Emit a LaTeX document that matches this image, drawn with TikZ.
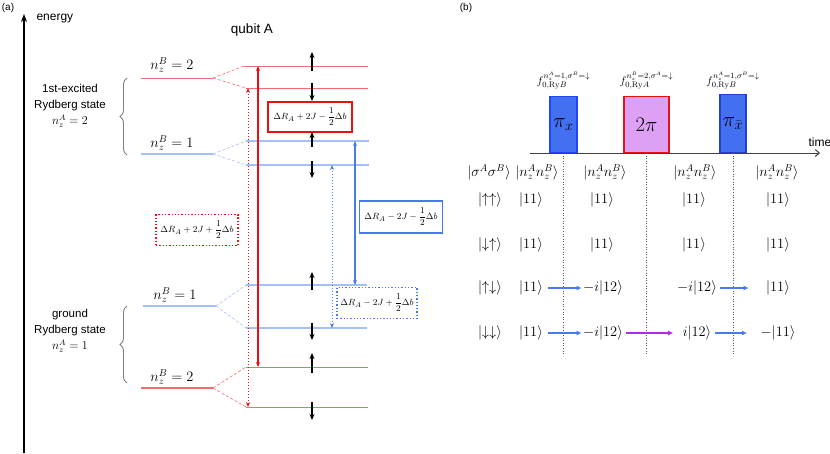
\documentclass[tikz,border=0pt]{standalone}
\usepackage[no-math]{fontspec}
\setmainfont{Liberation Sans}
\usepackage{amsmath}
\usetikzlibrary{positioning,arrows.meta,decorations.pathreplacing}

\definecolor{lvlred}{RGB}{240,110,110}
\definecolor{lvlblue}{RGB}{165,192,245}
\definecolor{trred}{RGB}{235,15,15}
\definecolor{trblue}{RGB}{72,122,238}
\definecolor{pulseblue}{RGB}{66,112,240}
\definecolor{pulseedge}{RGB}{30,70,255}
\definecolor{pulsedark}{RGB}{35,65,200}
\definecolor{pulseviolet}{RGB}{222,160,245}
\definecolor{arrviolet}{RGB}{178,40,240}

\begin{document}
\begin{tikzpicture}[
	x=1pt, y=-1pt,
	>=Stealth,
	font=\fontsize{12}{14}\selectfont,
	lvlR/.style={draw=lvlred, line width=0.9pt},
	lvlB/.style={draw=lvlblue, line width=1.3pt},
	splitR/.style={draw=lvlred, densely dashed, line width=0.6pt},
	splitB/.style={draw=lvlblue, densely dashed, line width=0.6pt},
	spin/.style={line width=1.4pt, -{Stealth[length=6pt,width=5pt]}},
	trans/.style={line width=1.4pt, {Stealth[length=5pt,width=4pt]}-{Stealth[length=5pt,width=4pt]}},
	transdot/.style={line width=1pt, dotted, {Stealth[length=5pt,width=4pt]}-{Stealth[length=5pt,width=4pt]}},
	gapbox/.style={fill=white, font=\fontsize{9.3}{10}\selectfont, inner xsep=1.5pt, inner ysep=1pt},
	levlabel/.style={font=\fontsize{14.5}{16}\selectfont},
	sidetext/.style={align=center, font=\fontsize{11.5}{16}\selectfont},
	pbrace/.style={draw=gray, line width=0.9pt, decorate, decoration={brace, amplitude=7pt}},
	pulse/.style={anchor=south, line width=1.3pt, inner sep=0pt},
	flabel/.style={font=\fontsize{11}{12}\selectfont, inner sep=1pt},
	ket/.style={font=\fontsize{14}{16}\selectfont},
	ketarr/.style={line width=1.6pt, -{Latex[length=5pt,width=5pt]}},
	vline/.style={draw=gray!70!black, dotted, line width=0.6pt}
	]
	\useasboundingbox (0,0) rectangle (830,453);
	
	% panel (a)
	\node (pa) at (8,8) {\fontsize{10}{12}\selectfont(a)};
	\coordinate (ebot) at (24,453);
	\coordinate (etop) at (24,14);
	\draw[line width=1.8pt, -{Stealth[length=8pt,width=6pt]}] (ebot) -- (etop);
	\node[anchor=west] (energy) at (33,19) {energy};
	\node[font=\fontsize{13.5}{15}\selectfont] (qubit) at (252,30) {qubit A};
	
	% levels of qubit A alone
	\coordinate (e2l) at (141,78);  \coordinate (e2r) at (213,78);
	\coordinate (e1l) at (141,154); \coordinate (e1r) at (213,154);
	\coordinate (g1l) at (143,306); \coordinate (g1r) at (216,306);
	\coordinate (g2l) at (141,388); \coordinate (g2r) at (213,388);
	\draw[lvlR] (e2l) -- (e2r);
	\draw[lvlB] (e1l) -- (e1r);
	\draw[lvlB] (g1l) -- (g1r);
	\draw[lvlR, line width=1.3pt] (g2l) -- (g2r);
	
	% split levels
	\coordinate (e2ul) at (244,66);  \coordinate (e2ur) at (368,66);
	\coordinate (e2dl) at (246,88);  \coordinate (e2dr) at (368,88);
	\coordinate (e1ul) at (246,141); \coordinate (e1ur) at (369,141);
	\coordinate (e1dl) at (246,165); \coordinate (e1dr) at (369,165);
	\coordinate (g1ul) at (246,285); \coordinate (g1ur) at (367,285);
	\coordinate (g1dl) at (246,328); \coordinate (g1dr) at (367,328);
	\coordinate (g2ul) at (246,367); \coordinate (g2ur) at (368,367);
	\coordinate (g2dl) at (246,407); \coordinate (g2dr) at (368,407);
	\draw[lvlR] (e2ul) -- (e2ur);
	\draw[lvlR] (e2dl) -- (e2dr);
	\draw[lvlB] (e1ul) -- (e1ur);
	\draw[lvlB] (e1dl) -- (e1dr);
	\draw[lvlB] (g1ul) -- (g1ur);
	\draw[lvlB] (g1dl) -- (g1dr);
	\draw[lvlR] (g2ul) -- (g2ur);
	\draw[lvlR] (g2dl) -- (g2dr);
	
	\draw[splitR] (e2r) -- (e2ul);
	\draw[splitR] (e2r) -- (e2dl);
	\draw[splitB] (e1r) -- (e1ul);
	\draw[splitB] (e1r) -- (e1dl);
	\draw[splitB] (g1r) -- (g1ul);
	\draw[splitB] (g1r) -- (g1dl);
	\draw[splitR] (g2r) -- (g2ul);
	\draw[splitR] (g2r) -- (g2dl);
	
	\node[levlabel] (le2) at (172,65) {$n_z^B=2$};
	\node[levlabel] (le1) at (172,143) {$n_z^B=1$};
	\node[levlabel] (lg1) at (175,295) {$n_z^B=1$};
	\node[levlabel] (lg2) at (172,377) {$n_z^B=2$};
	
	% braces
	\coordinate (bx1t) at (127,78);  \coordinate (bx1b) at (127,155);
	\coordinate (bx2t) at (127,306); \coordinate (bx2b) at (127,383);
	\draw[pbrace] (bx1b) -- (bx1t);
	\draw[pbrace] (bx2b) -- (bx2t);
	\node[sidetext] (exc) at (70,106) {1st-excited\\Rydberg state\\$n_z^A=2$};
	\node[sidetext] (gnd) at (70,331) {ground\\Rydberg state\\$n_z^A=1$};
	
	% spin arrows
	\foreach \yy/\a/\b in {66/5/-14, 88/-5/13, 141/6/-9, 165/-4/13, 285/5/-13, 328/-5/12, 367/6/-14, 407/-5/13}
		\draw[spin] (312,{\yy+\a}) -- (312,{\yy+\b});
	
	% transitions
	\coordinate (xRs) at (258,0);
	\coordinate (xRd) at (248,0);
	\coordinate (xBs) at (355,0);
	\coordinate (xBd) at (332,0);
	\draw[trans, trred] (xRs |- e2ul) -- (xRs |- g2ul);
	\draw[transdot, trred] (xRd |- e2dl) -- (xRd |- g2dl);
	\draw[trans, trblue] (xBs |- e1ul) -- (xBs |- g1ul);
	\draw[transdot, trblue] (xBd |- e1dl) -- (xBd |- g1dl);
	
	\node[gapbox, draw=trred, line width=1.6pt, minimum width=84, minimum height=30] (gRs) at (310,117) {$\Delta R_A+2J-\dfrac{1}{2}\Delta b$};
	\node[gapbox, draw=trred, dotted, line width=1.3pt, minimum width=82, minimum height=31] (gRd) at (197,230) {$\Delta R_A+2J+\dfrac{1}{2}\Delta b$};
	\node[gapbox, draw=trblue, line width=1.6pt, minimum width=83, minimum height=32] (gBs) at (401,217) {$\Delta R_A-2J-\dfrac{1}{2}\Delta b$};
	\node[gapbox, draw=trblue, dotted, line width=1.3pt, minimum width=80, minimum height=31] (gBd) at (377,303) {$\Delta R_A-2J+\dfrac{1}{2}\Delta b$};
	
	% panel (b)
	\node (pb) at (466,8) {\fontsize{10}{12}\selectfont(b)};
	\coordinate (t0) at (530,153);
	\coordinate (t1) at (820,153);
	\draw[draw=black!75, line width=1pt, -{Straight Barb[length=4pt,width=7pt]}] (t0) -- (t1);
	\node[anchor=west] (time) at (805,142) {time};
	
	\node[pulse, fill=pulseblue, draw=pulseedge, minimum width=27, minimum height=56, font=\fontsize{21}{22}\selectfont] (pxa) at (563.5,153) {$\pi_x$};
	\node[pulse, fill=pulseviolet, draw=trred, minimum width=45, minimum height=56, font=\fontsize{20}{22}\selectfont] (ptwo) at (646.5,153) {$2\pi$};
	\node[pulse, fill=pulseblue, draw=pulsedark, minimum width=26, minimum height=58, font=\fontsize{21}{22}\selectfont] (pxb) at (733,153) {$\pi_{\bar{x}}$};
	
	\node[flabel, above=5pt of pxa] (fa) {$f_{0,\mathrm{Ry}B}^{n_z^A=1,\sigma^B=\downarrow}$};
	\node[flabel, above=5pt of ptwo] (fb) {$f_{0,\mathrm{Ry}A}^{n_z^B=2,\sigma^A=\downarrow}$};
	\node[flabel, above=3pt of pxb] (fc) {$f_{0,\mathrm{Ry}B}^{n_z^A=1,\sigma^B=\downarrow}$};
	
	\coordinate (vbot) at (0,355);
	\draw[vline] (pxa.south) -- (pxa.south |- vbot);
	\draw[vline] (ptwo.south) -- (ptwo.south |- vbot);
	\draw[vline] (pxb.south) -- (pxb.south |- vbot);
	
	% table of states
	\node[ket] (h0) at (489,172) {$|\sigma^A\sigma^B\rangle$};
	\node[ket] (h1) at (537,172) {$|n_z^An_z^B\rangle$};
	\node[ket] (h2) at (605,172) {$|n_z^An_z^B\rangle$};
	\node[ket] (h3) at (695,172) {$|n_z^An_z^B\rangle$};
	\node[ket] (h4) at (777,172) {$|n_z^An_z^B\rangle$};
	
	\node[ket] (s1) at (490,200) {$|{\uparrow\uparrow}\rangle$};
	\node[ket] (a1) at (531,200) {$|11\rangle$};
	\node[ket] (b1) at (602,200) {$|11\rangle$};
	\node[ket] (c1) at (694,200) {$|11\rangle$};
	\node[ket] (d1) at (778,200) {$|11\rangle$};
	
	\node[ket] (s2) at (490,245) {$|{\downarrow\uparrow}\rangle$};
	\node[ket] (a2) at (531,245) {$|11\rangle$};
	\node[ket] (b2) at (602,245) {$|11\rangle$};
	\node[ket] (c2) at (694,245) {$|11\rangle$};
	\node[ket] (d2) at (778,245) {$|11\rangle$};
	
	\node[ket] (s3) at (490,288) {$|{\uparrow\downarrow}\rangle$};
	\node[ket] (a3) at (531,288) {$|11\rangle$};
	\node[ket] (b3) at (603,288) {$-i|12\rangle$};
	\node[ket] (c3) at (697,288) {$-i|12\rangle$};
	\node[ket] (d3) at (778,288) {$|11\rangle$};
	
	\node[ket] (s4) at (490,333) {$|{\downarrow\downarrow}\rangle$};
	\node[ket] (a4) at (531,333) {$|11\rangle$};
	\node[ket] (b4) at (603,333) {$-i|12\rangle$};
	\node[ket] (c4) at (697,333) {$i|12\rangle$};
	\node[ket] (d4) at (778,333) {$-|11\rangle$};
	
	\draw[ketarr, trblue, shorten <=2pt, shorten >=-2pt] (a3) -- (b3);
	\draw[ketarr, trblue, shorten >=14pt] (c3) -- (d3);
	\draw[ketarr, trblue, shorten <=2pt, shorten >=-2pt] (a4) -- (b4);
	\draw[ketarr, arrviolet, shorten >=6pt] (b4) -- (c4);
	\draw[ketarr, trblue, shorten >=10pt] (c4) -- (d4);
\end{tikzpicture}
\end{document}
